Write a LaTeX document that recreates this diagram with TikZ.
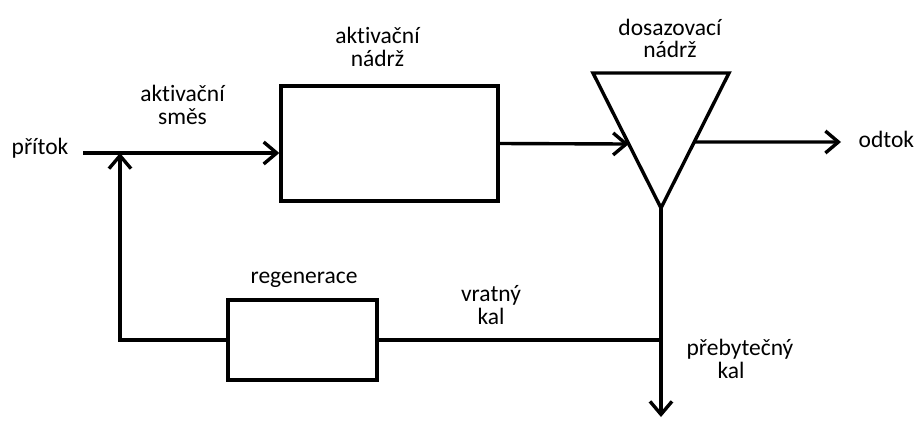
\documentclass[tikz,border=0pt]{standalone}
\usepackage{fontspec}
\setmainfont[Ligatures=NoCommon]{Carlito}
\usetikzlibrary{arrows.meta,calc}
\begin{document}
\begin{tikzpicture}[x=1pt,y=-1pt,
  line width=3.4pt,
  arr/.style={-{Straight Barb[length=13pt,width=22pt,line width=3.4pt]}},
  boxnode/.style={draw,line width=3.4pt,inner sep=0pt},
  lbl/.style={font=\fontsize{23.5}{22.5}\selectfont,align=center,inner sep=0pt}]
\useasboundingbox (0,0) rectangle (914,421);
% boxes
\node[boxnode,minimum width=217pt,minimum height=115pt] (act) at (389.5,143.5) {};
\node[boxnode,minimum width=149pt,minimum height=80pt] (reg) at (302.5,340) {};
% triangle
\coordinate (tl) at (593,73);
\coordinate (tr) at (729,73);
\coordinate (ap) at (661,208);
\draw[line join=miter] (tl) -- (tr) -- (ap) -- cycle;
% labels
\node[lbl,anchor=west] (pritok) at (10,148.5) {přítok};
\node[lbl] (smes) at (182.5,105) {aktivační\\směs};
\node[lbl] (actl) at (377.5,47) {aktivační\\nádrž};
\node[lbl] (dos) at (670,38.5) {dosazovací\\nádrž};
\node[lbl,anchor=west] (odtok) at (857,139.5) {odtok};
\node[lbl] (regl) at (304,280) {regenerace};
\node[lbl] (vrat) at (491,305) {vratný\\kal};
\node[lbl] (preb) at (740,359) {přebytečný\\\hspace*{-18pt}kal};
% connectors
\coordinate (in) at (83,153);
\coordinate (j1) at (120,153);
\draw[arr] (in) -- (act.west |- in);
\coordinate (tin) at ($(tl)!0.526!(ap)$);
\draw[arr] (act.east) -- (tin);
\coordinate (tout) at ($(tr)!0.511!(ap)$);
\coordinate (out) at (841,142);
\draw[arr] (tout) -- (out);
\coordinate (j2) at (661,340);
\coordinate (down) at (661,417);
\draw[arr] (ap) -- (down);
\draw (j2) -- (reg.east);
\draw[arr] (reg.west) -| (j1);
\end{tikzpicture}
\end{document}
